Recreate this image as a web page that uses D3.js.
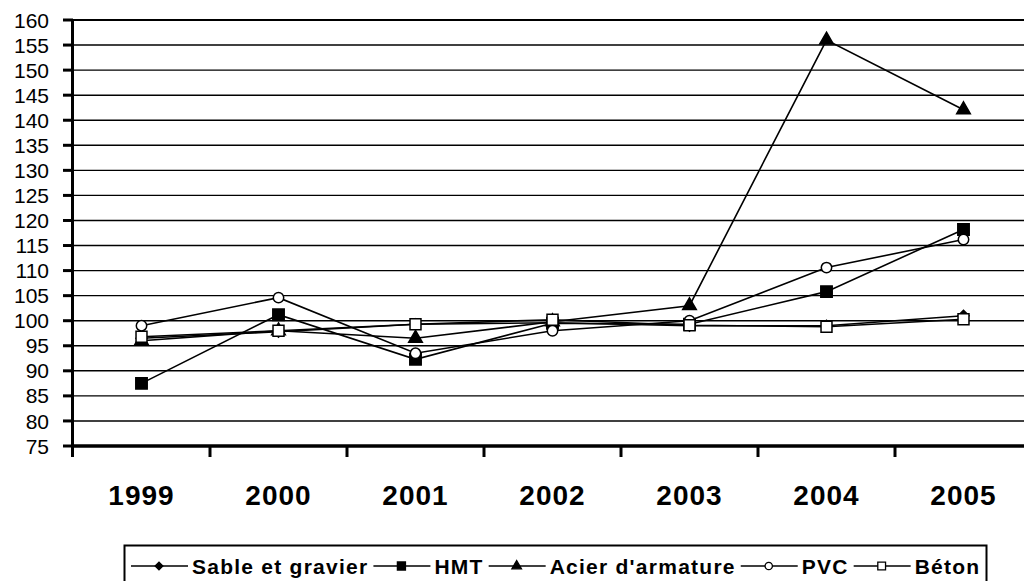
<!DOCTYPE html>
<html>
<head>
<meta charset="utf-8">
<script src="https://cdn.jsdelivr.net/npm/d3@7"></script>
<style>
  html, body { margin: 0; padding: 0; background: #fff; overflow: hidden; }
  svg { display: block; font-family: "Liberation Sans", Arial, sans-serif; }
</style>
</head>
<body>
<svg id="chart" width="1024" height="581"></svg>
<script>
const years = ["1999", "2000", "2001", "2002", "2003", "2004", "2005"];
const yTicks = d3.range(75, 161, 5);

const sable = [96.5, 97.8, 99.3, 99.6, 99.0, 99.0, 101.0];
const hmt   = [87.5, 101.2, 92.3, 99.5, 99.3, 105.8, 118.2];
const acier = [96.0, 98.0, 96.5, 99.8, 103.0, 156.0, 142.1];
const pvc   = [99.0, 104.6, 93.5, 98.0, 100.0, 110.6, 116.2];
const beton = [96.8, 98.0, 99.3, 100.2, 99.1, 98.8, 100.3];

const series = [
  { name: "Sable et gravier", values: sable, symbol: d3.symbolSquare, size: 60, rot: 45, fill: "#000" },
  { name: "HMT", values: hmt, symbol: d3.symbolSquare, size: 130, rot: 0, fill: "#000" },
  { name: "Acier d'armature", values: acier, symbol: d3.symbolTriangle, size: 80, rot: 0, fill: "#000" },
  { name: "PVC", values: pvc, symbol: d3.symbolCircle, size: 85, rot: 0, fill: "#fff" },
  { name: "Béton", values: beton, symbol: d3.symbolSquare, size: 120, rot: 0, fill: "#fff" },
];

const svg = d3.select("#chart");
const plotL = 73, plotR = 1032, plotT = 20, plotB = 446;

const x = d3.scaleBand().domain(years).range([plotL, plotR]).padding(0);
const y = d3.scaleLinear().domain([75, 160]).range([plotB, plotT]);
const cx = d => x(d) + x.bandwidth() / 2;

// gridlines
svg.append("g").selectAll("line")
  .data(yTicks.filter(v => v > 75))
  .join("line")
  .attr("x1", plotL).attr("x2", 1024)
  .attr("y1", d => y(d)).attr("y2", d => y(d))
  .attr("stroke", "#000")
  .attr("stroke-width", d => d === 160 ? 2 : 1.4);

// y ticks + labels
const yg = svg.append("g");
yg.selectAll("line")
  .data(yTicks)
  .join("line")
  .attr("x1", 63).attr("x2", plotL)
  .attr("y1", d => y(d)).attr("y2", d => y(d))
  .attr("stroke", "#000").attr("stroke-width", 3);
yg.selectAll("text")
  .data(yTicks)
  .join("text")
  .attr("x", 49).attr("y", d => y(d))
  .attr("dy", "0.36em")
  .attr("text-anchor", "end")
  .attr("font-size", 21)
  .text(d => d);

// x axis
svg.append("line")
  .attr("x1", plotL).attr("x2", 1024)
  .attr("y1", plotB).attr("y2", plotB)
  .attr("stroke", "#000").attr("stroke-width", 3.5);
svg.append("line")
  .attr("x1", plotL - 0.5).attr("x2", plotL - 0.5)
  .attr("y1", plotT - 1).attr("y2", plotB + 11)
  .attr("stroke", "#000").attr("stroke-width", 3);
svg.append("g").selectAll("line")
  .data(years.slice(1))
  .join("line")
  .attr("x1", d => x(d)).attr("x2", d => x(d))
  .attr("y1", plotB).attr("y2", plotB + 11)
  .attr("stroke", "#000").attr("stroke-width", 3);
svg.append("g").selectAll("text")
  .data(years)
  .join("text")
  .attr("x", d => cx(d)).attr("y", 505)
  .attr("text-anchor", "middle")
  .attr("font-size", 28).attr("font-weight", "bold")
  .attr("letter-spacing", 1)
  .text(d => d);

// series
const line = d3.line().x((v, i) => cx(years[i])).y(v => y(v));
const sg = svg.append("g");
series.forEach(s => {
  const g = sg.append("g");
  g.append("path")
    .attr("d", line(s.values))
    .attr("fill", "none").attr("stroke", "#000").attr("stroke-width", 1.6);
  g.selectAll("path.m")
    .data(s.values)
    .join("path")
    .attr("class", "m")
    .attr("transform", (v, i) => `translate(${cx(years[i])},${y(v)}) rotate(${s.rot})`)
    .attr("d", d3.symbol(s.symbol, s.size))
    .attr("fill", s.fill).attr("stroke", "#000").attr("stroke-width", 1.5);
});

// legend
const lg = svg.append("g");
lg.append("rect")
  .attr("x", 124.5).attr("y", 545.5)
  .attr("width", 862).attr("height", 60)
  .attr("fill", "#fff").attr("stroke", "#000").attr("stroke-width", 2);
let lx = 131;
const ly = 566;
series.forEach(s => {
  lg.append("line")
    .attr("x1", lx).attr("x2", lx + 57)
    .attr("y1", ly).attr("y2", ly)
    .attr("stroke", "#000").attr("stroke-width", 1.6);
  lg.append("path")
    .attr("transform", `translate(${lx + 28},${ly}) rotate(${s.rot})`)
    .attr("d", d3.symbol(s.symbol, s.size * 0.5))
    .attr("fill", s.fill).attr("stroke", "#000").attr("stroke-width", 1.3);
  const t = lg.append("text")
    .attr("x", lx + 61).attr("y", ly + 8)
    .attr("font-size", 21).attr("font-weight", "bold")
    .attr("letter-spacing", 1.25)
    .text(s.name);
  lx += 61 + t.node().getComputedTextLength() + 5;
});
</script>
</body>
</html>
